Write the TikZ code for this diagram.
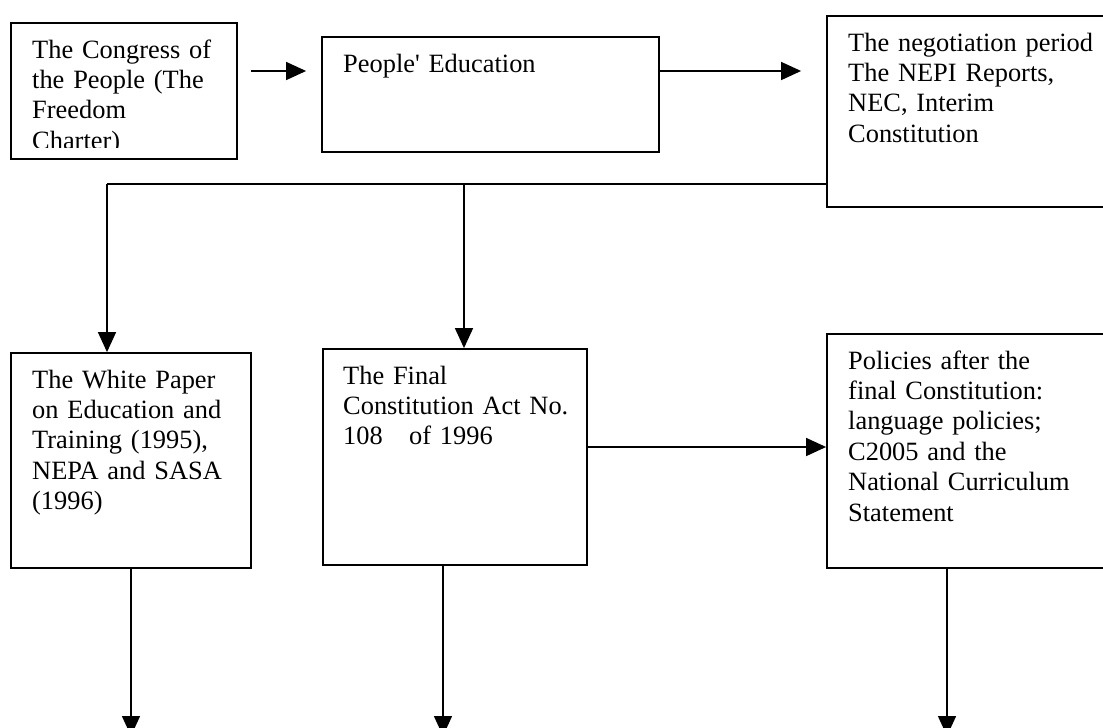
\documentclass[tikz,border=0pt]{standalone}
\usepackage{fontspec}
\setmainfont{Liberation Serif}
\usetikzlibrary{arrows.meta,calc}
\begin{document}
\begin{tikzpicture}[x=1pt,y=-1pt,
  boxnode/.style={draw=black,line width=1.8pt,rectangle,inner sep=0pt},
  txt/.style={anchor=base west,inner sep=0pt,align=left,text width=250pt,
    font=\fontsize{26.4}{30.4}\selectfont},
  conn/.style={draw=black,line width=1.5pt},
  arr/.style={conn,-{Triangle[length=20pt,width=18pt]}}]
\useasboundingbox (0,0) rectangle (1103,728);
\clip (0,0) rectangle (1103,728);
\fill[white] (0,0) rectangle (1103,728);
% boxes
\node[boxnode,minimum width=226pt,minimum height=136pt] (A) at (124,91) {};
\node[boxnode,minimum width=337pt,minimum height=115pt] (B) at (490.5,94.5) {};
\node[boxnode,minimum width=293pt,minimum height=191pt] (C) at (973.5,111.5) {};
\node[boxnode,minimum width=240pt,minimum height=215pt] (D) at (131,460.5) {};
\node[boxnode,minimum width=264pt,minimum height=216pt] (E) at (455,457) {};
\node[boxnode,minimum width=293pt,minimum height=234pt] (F) at (973.5,451) {};
% texts
\begin{scope}
\clip (12,24) rectangle (236,147);
\node[txt] (At) at (32,58) {The Congress of\\the People (The\\Freedom\\Charter)};
\end{scope}
\node[txt] (Bt) at (343,72) {People\textquotesingle{} Education};
\node[txt] (Ct) at (848,51) {The negotiation period\\The NEPI Reports,\\NEC, Interim\\Constitution};
\node[txt] (Dt) at (32,388) {The White Paper\\on Education and\\Training (1995),\\NEPA and SASA\\(1996)};
\node[txt] (Et) at (343,384) {The Final\\Constitution Act No.\\108\ \ \ of 1996};
\node[txt] (Ft) at (848,369) {Policies after the\\final Constitution:\\language policies;\\C2005 and the\\National Curriculum\\Statement};
% connectors
\draw[arr] ($(A.east |- 0,71)+(13,0)$) -- ($(B.west |- 0,71)+(-15,0)$);
\draw[arr] (B.east |- 0,71) -- ($(C.west |- 0,71)+(-25,0)$);
\coordinate (j1) at (107,184);
\coordinate (j2) at (464,184);
\draw[conn] (C.west |- j1) -- (j1);
\draw[arr] (j1) -- (j1 |- D.north);
\draw[arr] (j2) -- (j2 |- E.north);
\draw[arr] (E.east |- 0,447) -- (F.west |- 0,447);
\coordinate (d1) at (131,736);
\coordinate (d2) at (443,736);
\coordinate (d3) at (947,736);
\draw[arr] (d1 |- D.south) -- (d1);
\draw[arr] (d2 |- E.south) -- (d2);
\draw[arr] (d3 |- F.south) -- (d3);
\end{tikzpicture}
\end{document}
